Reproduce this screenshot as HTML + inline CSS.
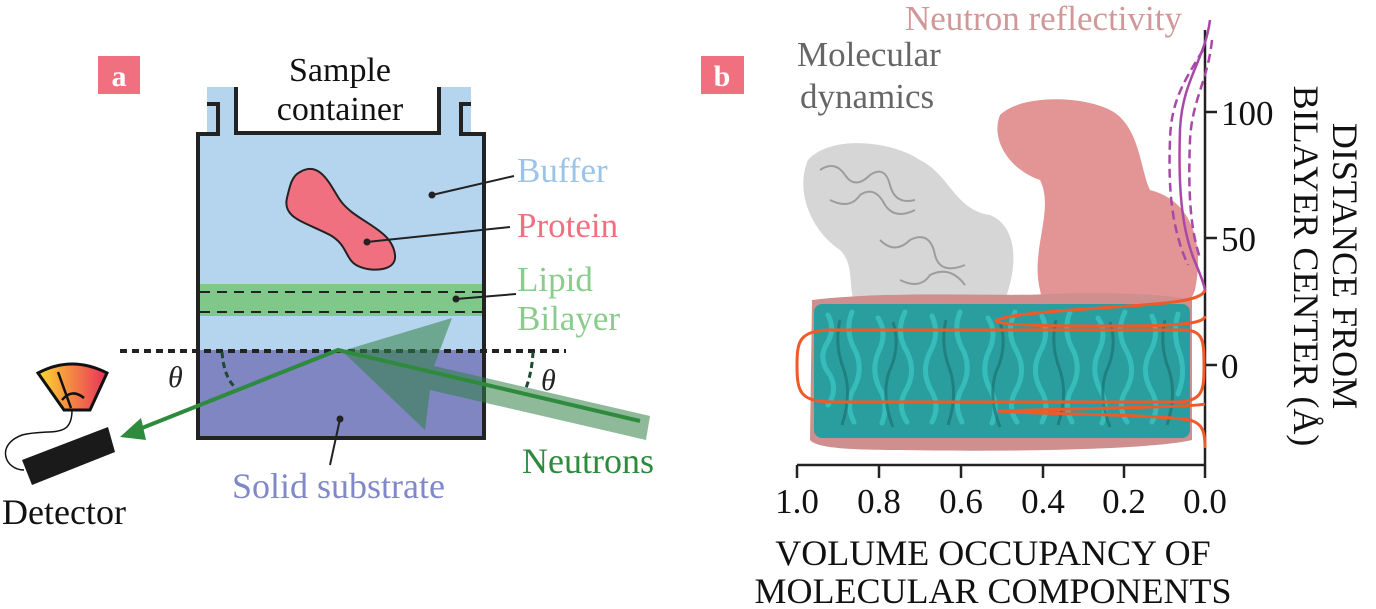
<!DOCTYPE html>
<html><head><meta charset="utf-8"><style>
html,body{margin:0;padding:0;background:#fff;}
svg{display:block;}
text{font-family:"Liberation Serif",serif;}
</style></head><body>
<svg width="1376" height="609" viewBox="0 0 1376 609" xmlns="http://www.w3.org/2000/svg">
<defs>
<linearGradient id="mg" x1="0" x2="1" y1="0" y2="0"><stop offset="0" stop-color="#ffd830"/><stop offset="1" stop-color="#e8305a"/></linearGradient>
</defs>
<!-- panel a -->
<rect x="98" y="56" width="42" height="38" fill="#f07080"/>
<text x="119" y="86" font-size="30" font-weight="bold" fill="#fff" text-anchor="middle">a</text>
<text x="340" y="81" font-size="34" text-anchor="middle" fill="#111">Sample</text>
<text x="340" y="120" font-size="34" text-anchor="middle" fill="#111">container</text>
<rect x="207" y="87" width="30" height="48" fill="#b5d4ee"/>
<rect x="438" y="87" width="33" height="48" fill="#b5d4ee"/>
<rect x="198" y="133" width="286" height="152" fill="#b5d4ee"/>
<rect x="198" y="284" width="286" height="32" fill="#80c88a"/>
<rect x="198" y="316" width="286" height="35" fill="#b5d4ee"/>
<rect x="198" y="350" width="286" height="88" fill="#7f86c2"/>
<line x1="200" y1="292" x2="482" y2="292" stroke="#222" stroke-width="2" stroke-dasharray="10,7"/>
<line x1="200" y1="312" x2="482" y2="312" stroke="#222" stroke-width="2" stroke-dasharray="10,7"/>
<g fill="none" stroke="#222" stroke-width="4">
<path d="M207,104 H218 V134 H198 V438 H484 V134 H461 V104 H471"/>
<path d="M236,87 V133 H439 V87"/>
</g>
<path d="M300,172 C320,160 330,185 340,200 C355,222 392,228 395,255 C397,272 370,272 358,266 C345,260 348,245 330,235 C305,222 282,218 287,198 C290,185 292,176 300,172 Z" fill="#f07080" stroke="#222" stroke-width="2"/>
<g stroke="#222" stroke-width="2"><line x1="432" y1="195" x2="514" y2="176"/><line x1="367" y1="242" x2="510" y2="227"/><line x1="456" y1="299" x2="516" y2="294"/><line x1="340" y1="419" x2="330" y2="465"/></g>
<g fill="#222"><circle cx="432" cy="195" r="3.5"/><circle cx="367" cy="242" r="3.5"/><circle cx="456" cy="299" r="3.5"/><circle cx="340" cy="419" r="3.5"/></g>
<text x="517" y="182" font-size="35" fill="#9cc4e8">Buffer</text>
<text x="517" y="237" font-size="35" fill="#f07080">Protein</text>
<text x="517" y="291" font-size="35" fill="#8acc8c">Lipid</text>
<text x="517" y="330" font-size="35" fill="#8acc8c">Bilayer</text>
<text x="232" y="498" font-size="36" fill="#8088c8">Solid substrate</text>
<text x="522" y="473" font-size="36" fill="#2e8b3e">Neutrons</text>
<text x="2" y="524" font-size="36" fill="#111">Detector</text>
<line x1="120" y1="351" x2="566" y2="351" stroke="#222" stroke-width="4" stroke-dasharray="7,5"/>
<path d="M222,352 Q224,378 236,388" fill="none" stroke="#1d4a30" stroke-width="3" stroke-dasharray="6,4"/>
<path d="M533,352 Q532,372 526,388" fill="none" stroke="#1d4a30" stroke-width="3" stroke-dasharray="6,4"/>
<text x="168" y="387" font-size="30" font-style="italic" fill="#222">θ</text>
<text x="541" y="390" font-size="30" font-style="italic" fill="#222">θ</text>
<path d="M650,416 L434,366 L452,318 L342,351 L425,430 L430,390 L646,440 Z" fill="rgba(50,130,70,0.55)"/>
<polyline points="640,421 338,350 132,432" fill="none" stroke="#2e8b3e" stroke-width="4"/>
<polygon points="120,437 141,418 146,440" fill="#2e8b3e"/>
<path d="M38,373 Q72,355 107,373 L90,410 L64,410 Z" fill="url(#mg)" stroke="#111" stroke-width="3"/>
<path d="M62,400 Q72,388 84,398" fill="none" stroke="#111" stroke-width="2.5"/>
<line x1="58" y1="372" x2="71" y2="408" stroke="#111" stroke-width="2.5"/>
<path d="M72,410 C72,440 50,428 22,435 C-5,445 5,470 24,470" fill="none" stroke="#111" stroke-width="1.5"/>
<polygon points="22,460 108,427 115,452 32,485" fill="#1a1a1a"/>
<!-- panel b -->
<rect x="701" y="56" width="43" height="38" fill="#f07080"/>
<text x="722" y="86" font-size="30" font-weight="bold" fill="#fff" text-anchor="middle">b</text>
<text x="797" y="66" font-size="35" fill="#666">Molecular</text>
<text x="800" y="108" font-size="35" fill="#666">dynamics</text>
<text x="905" y="30" font-size="35" fill="#d09898">Neutron reflectivity</text>
<path d="M808,160 C830,135 890,140 920,160 C950,175 955,210 990,215 C1015,225 1020,260 1005,300 C990,330 930,345 870,330 C840,300 860,270 840,250 C810,230 795,190 808,160 Z" fill="#cfcfcf" opacity="0.85"/>
<g stroke="#777" stroke-width="2" fill="none" opacity="0.6">
<path d="M820,170 q15,-10 25,5 q10,15 25,0 q15,-10 20,10 q5,20 25,15 M830,200 q20,10 30,-5 q15,-10 25,10 q10,15 30,5 M880,240 q15,15 30,0 q20,-10 25,15 q5,20 30,10 M900,280 q20,10 30,-5 q20,-10 35,10 M920,310 q20,5 40,-10"/>
</g>
<path d="M1000,115 C1020,95 1080,95 1110,110 C1140,125 1140,170 1150,190 C1190,200 1205,240 1195,290 C1180,330 1130,340 1100,330 C1065,335 1045,320 1040,290 C1030,250 1055,210 1040,180 C1010,170 990,140 1000,115 Z" fill="#e39494"/>
<path d="M812,300 C900,290 1000,297 1050,294 C1120,291 1180,296 1192,300 L1192,440 C1150,450 1000,452 900,450 C850,450 816,448 810,440 Z" fill="#cf8f8f"/>
<rect x="814" y="304" width="376" height="134" rx="8" fill="#2a9e9e"/>
<g stroke="#37bcbc" stroke-width="5" fill="none" stroke-linecap="round">
<path d="M828,315 q8,15 -2,30 q-8,15 4,30 q8,15 -2,30 M852,312 q-8,20 4,40 q8,20 -4,40 q-6,15 2,30 M878,318 q10,15 0,35 q-8,20 4,40 q6,15 0,30 M905,312 q-10,20 2,40 q10,20 -2,40 q-8,15 2,30 M932,316 q8,18 -2,36 q-10,20 2,40 q8,15 0,30 M960,312 q-8,20 4,40 q8,20 -4,40 q-6,15 2,30 M988,318 q10,15 0,35 q-8,20 4,40 q6,15 0,30 M1015,312 q-10,20 2,40 q10,20 -2,40 q-8,15 2,30 M1042,316 q8,18 -2,36 q-10,20 2,40 q8,15 0,30 M1070,312 q-8,20 4,40 q8,20 -4,40 q-6,15 2,30 M1098,318 q10,15 0,35 q-8,20 4,40 q6,15 0,30 M1125,312 q-10,20 2,40 q10,20 -2,40 q-8,15 2,30 M1152,316 q8,18 -2,36 q-10,20 2,40 q8,15 0,30 M1178,314 q-6,20 2,40 q6,20 -2,40"/>
</g>
<g stroke="#1c7474" stroke-width="3" fill="none" opacity="0.7">
<path d="M840,320 q-6,25 4,50 q8,25 -2,55 M893,322 q8,25 -4,50 q-8,25 4,55 M946,320 q-6,25 4,50 q8,25 -2,55 M1000,322 q8,25 -4,50 q-8,25 4,55 M1056,320 q-6,25 4,50 q8,25 -2,55 M1110,322 q8,25 -4,50 q-8,25 4,55 M1165,320 q-6,25 4,50 q8,25 -2,55"/>
</g>
<g stroke="#222" stroke-width="2.5">
<line x1="1205" y1="30" x2="1205" y2="465"/>
<line x1="797" y1="465" x2="1206" y2="465"/>
<line x1="797" y1="465" x2="797" y2="478"/><line x1="879" y1="465" x2="879" y2="478"/><line x1="961" y1="465" x2="961" y2="478"/><line x1="1043" y1="465" x2="1043" y2="478"/><line x1="1124" y1="465" x2="1124" y2="478"/><line x1="1205" y1="465" x2="1205" y2="478"/>
<line x1="1205" y1="112" x2="1217" y2="112"/><line x1="1205" y1="238" x2="1217" y2="238"/><line x1="1205" y1="365" x2="1217" y2="365"/>
</g>
<g font-size="35" fill="#111" text-anchor="middle">
<text x="797" y="513">1.0</text><text x="879" y="513">0.8</text><text x="961" y="513">0.6</text><text x="1043" y="513">0.4</text><text x="1124" y="513">0.2</text><text x="1205" y="513">0.0</text>
</g>
<g font-size="35" fill="#111"><text x="1221" y="125">100</text><text x="1221" y="251">50</text><text x="1221" y="378">0</text></g>
<text x="993" y="565" font-size="36" text-anchor="middle" fill="#111">VOLUME OCCUPANCY OF</text>
<text x="993" y="603" font-size="36" text-anchor="middle" fill="#111">MOLECULAR COMPONENTS</text>
<text transform="translate(1333,266) rotate(90)" font-size="36" text-anchor="middle" fill="#111">DISTANCE FROM</text>
<text transform="translate(1294,266) rotate(90)" font-size="36" text-anchor="middle" fill="#111">BILAYER CENTER (Å)</text>
<g fill="none" stroke="#f05a28" stroke-width="3">
<path d="M1205,290 C1202,302 1160,304 1100,308 C1040,312 1000,316 996,321 C1000,326 1060,326 1120,326 C1190,326 1204,322 1205,316"/>
<path d="M1185,330 L830,330 C800,331 797,340 797,365 C797,392 800,401 830,402 L1180,402 C1203,400 1204,390 1204,366 C1204,340 1203,331 1185,330 Z"/>
<path d="M1205,404 C1195,407 1100,408 998,411 C1060,415 1150,414 1190,420 C1203,424 1205,432 1205,448"/>
</g>
<path d="M1210,20 C1205,60 1182,80 1180,130 C1178,190 1182,230 1195,262 C1201,276 1204,284 1205,290" fill="none" stroke="#a848a8" stroke-width="2.5"/>
<path d="M1203,50 C1185,80 1171,100 1170,140 C1168,190 1172,230 1188,265" fill="none" stroke="#a848a8" stroke-width="2.5" stroke-dasharray="9,5"/>
<path d="M1212,40 C1208,80 1192,100 1190,140 C1188,190 1190,228 1200,258" fill="none" stroke="#a848a8" stroke-width="2.5" stroke-dasharray="9,5"/>
</svg>
</body></html>
